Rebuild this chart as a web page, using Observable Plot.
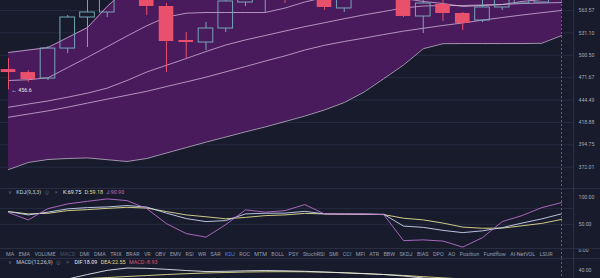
<!DOCTYPE html>
<html>
<head>
<meta charset="utf-8">
<script src="https://cdn.jsdelivr.net/npm/d3@7"></script>
<script src="https://cdn.jsdelivr.net/npm/@observablehq/plot@0.6"></script>
<style>
  html, body { margin: 0; padding: 0; background: #171b2b; }
  #chart { position: relative; width: 600px; height: 278px; overflow: hidden; background: #171b2b; font-family: Roboto, "DejaVu Sans", sans-serif; }
  #chart svg { position: absolute; left: 0; background: transparent; overflow: visible; }
  .hline { position: absolute; left: 0; width: 600px; height: 0; border-top: 1px solid #282d42; }
  .vline { position: absolute; top: 0; width: 0; height: 278px; border-left: 1px solid #2a2f46; }
  .legend { position: absolute; left: 8px; height: 7px; display: flex; align-items: center; gap: 3.4px; font-size: 5.4px; color: #c5c9d6; white-space: nowrap; }
  .dim { color: #5d6379; }
  #tabs { position: absolute; left: 6px; width: 547px; top: 249px; height: 9px; display: flex; justify-content: space-between; align-items: center; font-size: 5.4px; color: #959bb0; white-space: nowrap; }
</style>
</head>
<body>
<div id="chart"></div>
<script>
// ---- data ----
const opens  = [481.9, 478.1, 470.6, 509.5, 553.2, 560.6, 584, 595, 569.6, 520.5, 517.7, 537.3, 575.6, 596, 600, 592, 598, 566.6, 588, 600, 594, 554.7, 572.6, 559.1, 548.8, 568.1, 574.1, 575.6, 596];
const highs  = [496.2, 480.7, 512, 556.1, 585, 590, 604, 600, 574.1, 531.6, 545.9, 582, 596, 610, 606, 603, 602, 592, 606, 608, 598, 584, 582, 560.6, 582, 590, 596, 600, 606];
const lows   = [456.6, 465.6, 468.1, 502.8, 510.9, 553.2, 581, 556.1, 478.1, 496.2, 506.9, 531.6, 569.6, 560.6, 574.1, 582, 563.6, 560.6, 583, 585, 553.2, 530.2, 547.4, 534.5, 545.9, 563.6, 572.6, 574.1, 588];
const closes = [478.1, 469.3, 509.5, 553.2, 560.6, 584, 598, 569.6, 519.1, 517.7, 537.3, 577.2, 592, 604, 592, 598, 568.1, 588, 600, 594, 554.7, 574.1, 559.1, 544.5, 568.1, 585, 590, 595, 600];

const bollUpper = [504.2, 507.5, 510.9, 524.6, 538.7, 569.6, 597.4, 613.5, 623.3, 626.6, 626.6, 629.9, 636.7, 643.5, 650.3, 657.2, 660.8, 664.2, 667.8, 669.5, 669.5, 667.8, 664.2, 660.8, 657.2, 653.8, 650.3, 646.9, 643.5];
const maFast    = [468.1, 469.1, 471.5, 484.5, 497.8, 512.0, 526.7, 541.2, 553.9, 559.5, 560.6, 560.6, 560.6, 560.6, 567.2, 576.4, 583.3, 586.4, 591.1, 588.0, 581.8, 577.2, 574.1, 569.6, 571.1, 572.6, 577.2, 580.2, 581.8];
const maMid     = [436.1, 439.8, 443.4, 447.9, 452.7, 458.8, 468.1, 478.8, 487.4, 496.2, 505.5, 514.3, 521.3, 527.4, 533.7, 539.9, 545.6, 551.4, 557.0, 562.1, 567.3, 570.3, 571.1, 571.1, 571.8, 572.6, 574.1, 574.9, 575.6];
const maSlow    = [424.7, 428.3, 431.9, 436.2, 440.9, 445.6, 450.2, 454.9, 460.7, 466.4, 472.3, 479.0, 485.8, 492.9, 499.7, 507.5, 513.9, 519.1, 523.8, 528.8, 533.6, 537.6, 541.6, 545.3, 549.3, 553.2, 556.9, 560.3, 563.6];
const bollLower = [369.7, 376.7, 379.7, 380.7, 381.3, 379.5, 377.7, 380.7, 386.3, 391.9, 397.6, 403.0, 408.6, 413.9, 419.9, 426.0, 433.0, 441.6, 454.0, 470.4, 487.8, 509.3, 516.1, 516.3, 516.3, 516.3, 516.3, 516.7, 527.4];

const kLine = [74.0, 67.7, 73.0, 79.1, 81.5, 82.8, 85.3, 82.5, 71.1, 60.8, 55.1, 57.0, 69.6, 70.8, 71.1, 74.5, 69.6, 69.2, 69.2, 68.9, 46.6, 44.2, 38.5, 34.3, 37.7, 43.8, 52.3, 60.2, 69.75];
const dLine = [74.0, 69.6, 70.8, 75.8, 77.7, 80.0, 82.1, 80.6, 74.0, 67.7, 64.2, 60.4, 63.0, 66.4, 67.7, 70.6, 69.6, 69.2, 68.9, 68.3, 61.5, 58.3, 52.3, 44.7, 42.5, 42.8, 47.2, 51.7, 59.18];
const jLine = [72.1, 58.3, 79.6, 88.5, 93.4, 97.9, 94.7, 79.6, 51.3, 32.5, 25.8, 49.4, 77.2, 73.0, 75.8, 87.2, 69.6, 69.6, 69.6, 68.3, 19.2, 20.6, 18.3, 7.0, 24.9, 55.1, 66.4, 81.5, 90.9];

const difLine = [21.6, 24.1, 26.6, 29.8, 35.4, 40.6, 43.5, 43.1, 41.9, 40.4, 39.1, 39.4, 40.0, 40.4, 40.0, 39.4, 38.5, 37.5, 36.4, 35.4, 33.5, 31.0, 29.1, 26.6, 24.1, 22.0, 20.5, 19.2, 18.086];
const deaLine = [27.9, 27.9, 28.5, 29.1, 30.4, 31.6, 32.9, 34.1, 35.4, 36.4, 37.3, 37.9, 38.5, 38.8, 38.9, 38.8, 38.3, 37.6, 36.6, 35.4, 34.2, 32.7, 31.2, 29.8, 28.3, 26.8, 25.3, 23.9, 22.551];

const priceTicks = [563.57, 531.10, 500.50, 471.67, 444.49, 418.88, 394.75, 372.01];
const kdjTicks = [100, 50, 0];
const kdjGrid = [80, 50];
const macdTicks = [40];
const tabs = ["MA","EMA","VOLUME","MACD","DMI","DMA","TRIX","BRAR","VR","OBV","EMV","RSI","WR","SAR","KDJ","ROC","MTM","BOLL","PSY","StochRSI","SMI","CCI","MFI","ATR","BBW","SKDJ","BIAS","DPO","AO","Position","Fundflow","AI-NetVOL","LSUR"];
const tabMuted = "MACD";
const tabActive = "KDJ";

// ---- styles ----
const PURPLE = "#4a1b5c", UP = "#74a6b8", DOWN = "#e8506c", BANDLINE = "#dcc1e6";
const GRID = "#262b40", DASH = "#5b6178", AXIS_TEXT = "#a3a9bb";
const K_COL = "#cbd4f2", D_COL = "#e2de92", J_COL = "#b86fcc";

const n = opens.length;
const idx = d3.range(n);
const last = n - 1;
const candles = idx.map(i => ({i, o: opens[i], h: highs[i], l: lows[i], c: closes[i]}));
const up = candles.filter(d => d.c >= d.o);
const down = candles.filter(d => d.c < d.o);
const lowest = d3.least(candles, d => d.l);
const half = 0.37;

const xOpts = {type: "linear", domain: [-0.405, last], range: [0, 561], axis: null};
const common = {
  width: 600, marginLeft: 0, marginRight: 27, marginTop: 0, marginBottom: 0,
  style: {background: "transparent", fontFamily: "Roboto, sans-serif", fontSize: "5.2px", color: AXIS_TEXT}
};
// right-hand tick labels, drawn as text against the right edge of the frame
const tickLabels = ticks => Plot.text(ticks, {
  y: d => d, text: d => d.toFixed(2), frameAnchor: "right", dx: 5,
  textAnchor: "start", fill: AXIS_TEXT, fontSize: 5.2
});

const chart = document.getElementById("chart");

// ---- main price panel ----
const main = Plot.plot({
  ...common, height: 188,
  x: xOpts,
  y: {type: "log", domain: [351.6, 578.7], range: [188, 0], axis: null},
  marks: [
    Plot.ruleY(priceTicks, {stroke: GRID}),
    Plot.areaY(idx, {x: i => i, y1: i => bollLower[i], y2: i => bollUpper[i], fill: PURPLE, clip: true}),
    ...[bollUpper, maFast, maMid, maSlow, bollLower].map(arr =>
      Plot.lineY(idx, {x: i => i, y: i => arr[i], stroke: BANDLINE, strokeWidth: 0.8, strokeOpacity: 0.9, clip: true})),
    Plot.ruleX(up, {x: "i", y1: "h", y2: "c", stroke: UP, clip: true}),
    Plot.ruleX(up, {x: "i", y1: "o", y2: "l", stroke: UP, clip: true}),
    Plot.ruleX(down, {x: "i", y1: "h", y2: "l", stroke: DOWN, clip: true}),
    Plot.rect(up, {x1: d => d.i - half, x2: d => d.i + half, y1: "o", y2: "c", fill: "none", stroke: UP, strokeWidth: 1, clip: true}),
    Plot.rect(down, {x1: d => d.i - half, x2: d => d.i + half, y1: "o", y2: "c", fill: DOWN, clip: true}),
    Plot.ruleX([last], {stroke: DASH, strokeDasharray: "2,2"}),
    Plot.text([lowest], {x: "i", y: "l", text: d => "← " + d.l, textAnchor: "start", dx: 3, fill: "#e6e8f0", fontSize: 5.4}),
    tickLabels(priceTicks)
  ]
});
main.style.top = "0px";
chart.appendChild(main);

// ---- KDJ panel ----
const kdj = Plot.plot({
  ...common, height: 70,
  x: xOpts,
  y: {domain: [0, 100], range: [62.3, 9.3], axis: null},
  marks: [
    Plot.ruleY(kdjGrid, {stroke: GRID}),
    Plot.lineY(idx, {x: i => i, y: i => dLine[i], stroke: D_COL, strokeWidth: 0.9}),
    Plot.lineY(idx, {x: i => i, y: i => kLine[i], stroke: K_COL, strokeWidth: 0.9}),
    Plot.lineY(idx, {x: i => i, y: i => jLine[i], stroke: J_COL, strokeWidth: 0.9}),
    Plot.ruleX([last], {stroke: DASH, strokeDasharray: "2,2"}),
    tickLabels(kdjTicks)
  ]
});
kdj.style.top = "188px";
chart.appendChild(kdj);

// ---- MACD panel ----
const macd = Plot.plot({
  ...common, height: 20,
  x: xOpts,
  y: {domain: [30.4, 55.4], range: [20, 0], axis: null},
  marks: [
    Plot.lineY(idx, {x: i => i, y: i => deaLine[i], stroke: D_COL, strokeWidth: 0.9}),
    Plot.lineY(idx, {x: i => i, y: i => difLine[i], stroke: "#e4e6ee", strokeWidth: 0.9}),
    Plot.ruleX([last], {stroke: DASH, strokeDasharray: "2,2"}),
    tickLabels(macdTicks)
  ]
});
macd.style.top = "258px";
chart.appendChild(macd);

// ---- separators ----
for (const top of [188, 248, 258]) {
  const h = document.createElement("div");
  h.className = "hline"; h.style.top = top + "px";
  chart.appendChild(h);
}
const v = document.createElement("div");
v.className = "vline"; v.style.left = "573px";
chart.appendChild(v);

// ---- legends ----
const fmt = x => x.toFixed(2);
const kdjLegend = document.createElement("div");
kdjLegend.className = "legend";
kdjLegend.style.top = "188.5px";
kdjLegend.innerHTML = `<span class="dim">∨</span><span style="margin-left:1px">KDJ(9,3,3)</span><span class="dim">◎</span><span class="dim" style="margin-left:2px">×</span>` +
  `<span style="margin-left:2px;color:#e8eaf2">K:${fmt(kLine[last])}</span><span style="color:${D_COL}">D:${fmt(dLine[last])}</span><span style="color:${J_COL}">J:${fmt(jLine[last])}</span>`;
chart.appendChild(kdjLegend);

const macdLegend = document.createElement("div");
macdLegend.className = "legend";
macdLegend.style.top = "258.2px";
const hist = (difLine[last] - deaLine[last]) * 2;
macdLegend.innerHTML = `<span class="dim">∨</span><span style="margin-left:1px">MACD(12,26,9)</span><span class="dim">◎</span><span class="dim" style="margin-left:2px">×</span>` +
  `<span style="margin-left:2px;color:#e8eaf2">DIF:${fmt(difLine[last])}</span><span style="color:${D_COL}">DEA:${fmt(deaLine[last])}</span><span style="color:#d8587a">MACD:${fmt(hist)}</span>`;
chart.appendChild(macdLegend);

// ---- indicator tabs ----
const tabRow = document.createElement("div");
tabRow.id = "tabs";
tabRow.innerHTML = tabs.map(t => {
  const col = t === tabActive ? "#4a86e8" : t === tabMuted ? "#4c5168" : "#959bb0";
  return `<span style="color:${col}">${t}</span>`;
}).join("");
chart.appendChild(tabRow);
</script>
</body>
</html>
